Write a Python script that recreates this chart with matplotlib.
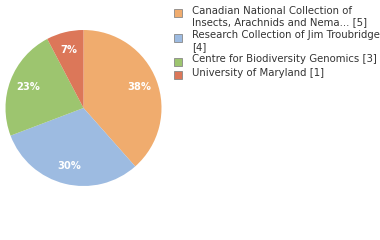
import matplotlib
matplotlib.use("Agg")
import matplotlib.pyplot as plt
from matplotlib.patches import Rectangle
import numpy as np

labels = ["Canadian National Collection of\nInsects, Arachnids and Nema... [5]",
          "Research Collection of Jim Troubridge\n[4]",
          "Centre for Biodiversity Genomics [3]",
          "University of Maryland [1]"]
values = [5, 4, 3, 1]
pct_labels = ["38%", "30%", "23%", "7%"]
colors = ["#f0ac6e", "#9dbbe1", "#9dc56f", "#dc7759"]

fig = plt.figure(figsize=(3.8, 2.4), dpi=100)
W, H = 380, 240
cx, cy, r = 83.5, 108, 78
ax = fig.add_axes([(cx - r) / W, 1 - (cy + r) / H, 2 * r / W, 2 * r / H])
wedges, _ = ax.pie(values, colors=colors, startangle=90, counterclock=False,
                   radius=1.0, wedgeprops=dict(linewidth=0))
total = sum(values)
ang = 90
for v, lab in zip(values, pct_labels):
    mid = ang - 360 * v / total / 2
    ang -= 360 * v / total
    rr = 0.76
    ax.text(rr * np.cos(np.radians(mid)), rr * np.sin(np.radians(mid)), lab,
            ha="center", va="center", color="white", fontsize=7.2,
            fontweight="semibold")
ax.set_xlim(-1, 1)
ax.set_ylim(-1, 1)
ax.set_aspect("equal")
ax.axis("off")

lx, tx = 174, 192
rows = [13, 38, 62, 75]
for lab, c, y in zip(labels, colors, rows):
    fig.patches.append(Rectangle((lx / W, 1 - (y + 4) / H), 8 / W, 8 / H,
                                 transform=fig.transFigure, facecolor=c,
                                 edgecolor="#888888", linewidth=0.6))
    fig.text(tx / W, 1 - (y - 7.5) / H, lab, ha="left", va="top", fontsize=7.3,
             color="#333333", linespacing=1.25)

fig.savefig("out.png", dpi=100)
